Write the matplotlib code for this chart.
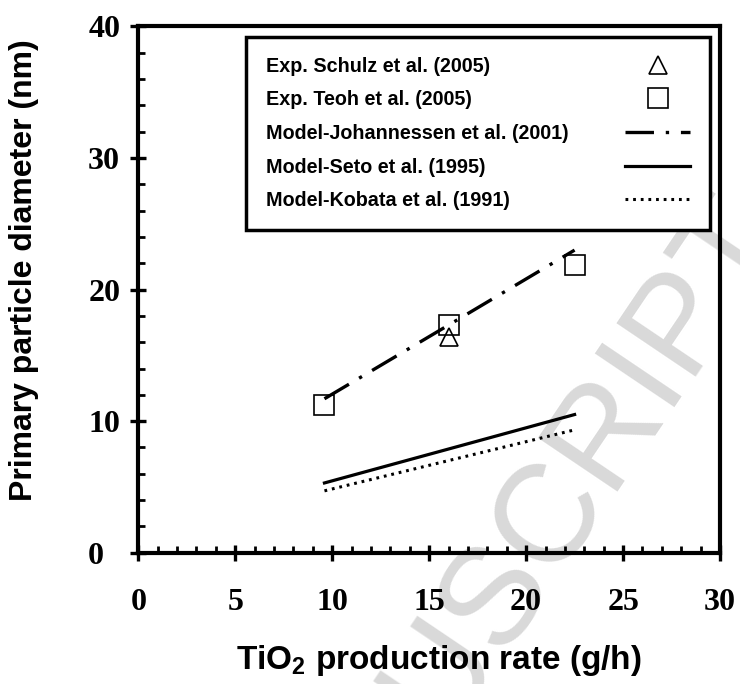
import matplotlib
matplotlib.use("Agg")
import matplotlib.pyplot as plt
from matplotlib.ticker import MultipleLocator

# Measured primary particle sizes
rate_schulz = [16.0]
d_schulz = [16.4]
rate_teoh = [9.6, 16.0, 22.5]
d_teoh = [11.2, 17.3, 21.9]

# Model predictions
rate_model = [9.6, 16.0, 22.5]
d_johannessen = [11.7, 17.3, 23.0]
rate_seto = [9.6, 22.5]
d_seto = [5.3, 10.5]
rate_kobata = [9.6, 22.4]
d_kobata = [4.7, 9.3]

labels = [
    "Exp. Schulz et al. (2005)",
    "Exp. Teoh et al. (2005)",
    "Model-Johannessen et al. (2001)",
    "Model-Seto et al. (1995)",
    "Model-Kobata et al. (1991)",
]

plt.rcParams["lines.scale_dashes"] = False

fig = plt.figure(figsize=(7.4, 6.84), dpi=100)
ax = fig.add_axes([0.1869, 0.192, 0.973 - 0.1869, 0.9613 - 0.192])
ax.set_facecolor("none")

ax.plot(rate_schulz, d_schulz, linestyle="none", marker="^", ms=13,
        mfc="none", mec="black", mew=1.2, label=labels[0], zorder=4)
ax.plot(rate_teoh, d_teoh, linestyle="none", marker="s", ms=14,
        mfc="none", mec="black", mew=1.2, label=labels[1], zorder=4)
ax.plot(rate_model, d_johannessen, color="black", lw=2.4,
        dashes=(20.5, 8.5, 2.4, 8.5), label=labels[2], zorder=3)
ax.plot(rate_seto, d_seto, color="black", lw=2.3, label=labels[3], zorder=3)
ax.plot(rate_kobata, d_kobata, color="black", lw=2.2,
        dashes=(2.0, 3.5), label=labels[4], zorder=3)

ax.set_xlim(0, 30)
ax.set_ylim(0, 40)
ax.xaxis.set_major_locator(MultipleLocator(5))
ax.xaxis.set_minor_locator(MultipleLocator(1))
ax.yaxis.set_major_locator(MultipleLocator(10))
ax.yaxis.set_minor_locator(MultipleLocator(2))

for side in ["left", "right", "top", "bottom"]:
    ax.spines[side].set_linewidth(3.0)

ax.tick_params(which="major", direction="inout", length=12.2, width=2.4,
               top=False, right=False)
ax.tick_params(which="minor", direction="in", length=5, width=2.0,
               top=False, right=False)
ax.tick_params(axis="x", which="major", pad=19)
ax.tick_params(axis="y", which="major", pad=30)

for lab in ax.get_xticklabels() + ax.get_yticklabels():
    lab.set_fontfamily("Liberation Serif")
    lab.set_fontweight("bold")
    lab.set_fontsize(23)
# y tick labels share a common left edge
for lab in ax.get_yticklabels():
    lab.set_horizontalalignment("left")

ax.set_xlabel("TiO$_\\mathregular{2}$ production rate (g/h)",
              fontfamily="Liberation Sans", fontweight="bold", fontsize=24)
ax.xaxis.set_label_coords(0.516, -0.1716)
ax.set_ylabel("Primary particle diameter (nm)", fontfamily="Liberation Sans",
              fontweight="bold", fontsize=23)
ax.yaxis.set_label_coords(-0.170, 0.537)

leg = ax.legend(loc="upper right", bbox_to_anchor=(0.983, 0.980),
                borderaxespad=0, markerfirst=False, fancybox=False,
                framealpha=1, edgecolor="black", handlelength=3.3,
                handletextpad=2.9, borderpad=1.0, labelspacing=0.74,
                prop={"family": "Liberation Sans", "weight": "bold", "size": 14.2})
leg.get_frame().set_linewidth(2.5)

# left-align the legend texts and push the handles to the right edge
fig.canvas.draw()
renderer = fig.canvas.get_renderer()
columns = leg._legend_handle_box.get_children()
rows = [row for col in columns for row in col.get_children()]
row_width = max(row.get_bbox(renderer).width for row in rows)
for col in columns:
    col.align = "left"
for row in rows:
    row.mode = "expand"
    row.width = row_width

# faint diagonal watermark, kept underneath the axes
fig.text(784 / 740, 1 - 228 / 684, "MANUSCRIPT", fontsize=100,
         fontfamily="Liberation Sans", color="#d9d9d9", rotation=56,
         rotation_mode="anchor", ha="right", va="baseline", zorder=-1)

fig.savefig("out.png", dpi=100)
